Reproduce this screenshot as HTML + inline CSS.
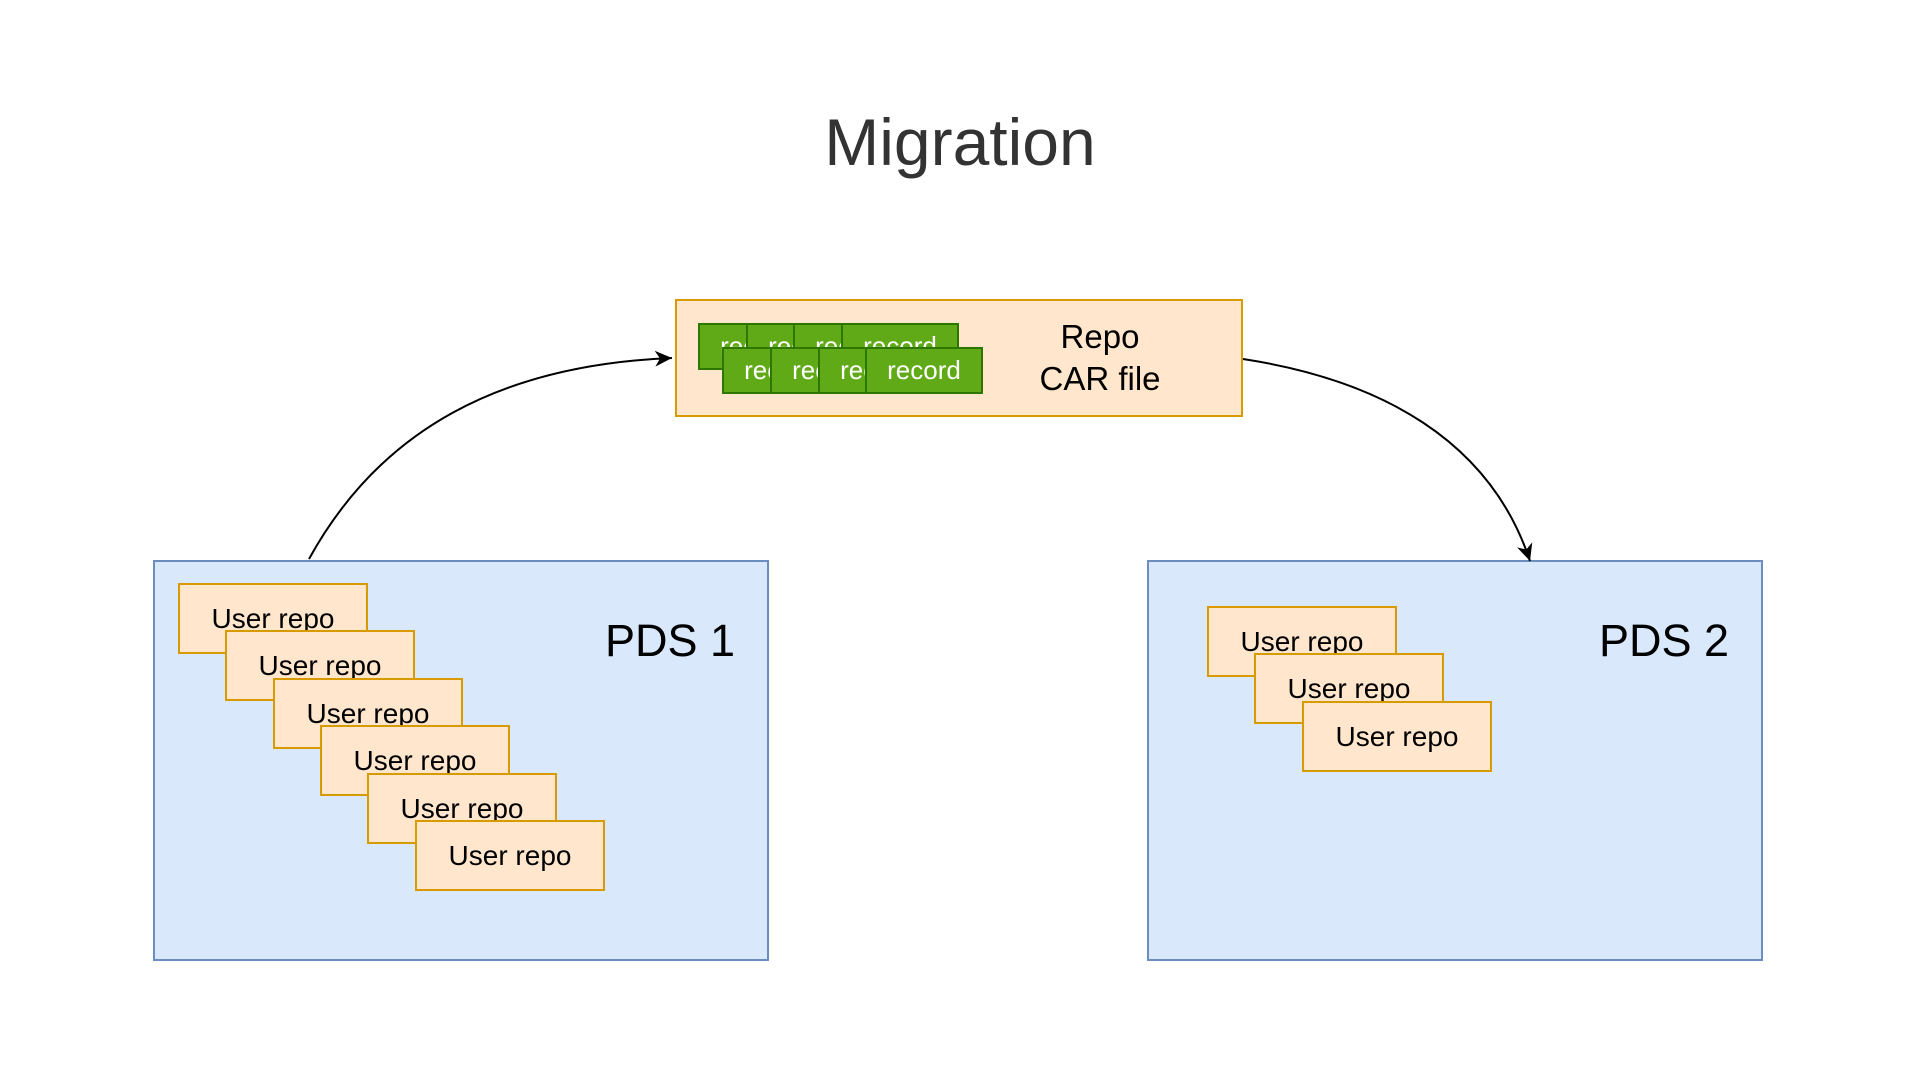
<!DOCTYPE html>
<html><head><meta charset="utf-8"><style>
body{margin:0;width:1920px;height:1080px;background:#fff;position:relative;overflow:hidden;font-family:"Liberation Sans",sans-serif}
.a{position:absolute;box-sizing:border-box}
.pds{background:#dae8fc;border:2px solid #6c8ebf}
.ur{background:#ffe6cc;border:2px solid #d79b00;width:190px;height:71px;display:flex;align-items:center;justify-content:center;font-size:28px;color:#000}
.g{background:#60a917;border:2px solid #2d7600;width:118px;height:47px;display:flex;align-items:center;justify-content:center;font-size:26px;color:#fff;white-space:nowrap}
.lbl{font-size:45px;color:#000}
</style></head><body>
<div class="a" style="left:0;width:1920px;top:104px;text-align:center;font-size:66px;color:#333">Migration</div>

<div class="a" style="left:675px;top:299px;width:568px;height:118px;background:#ffe6cc;border:2px solid #d79b00"></div>
<div class="a g" style="left:698px;top:323px">record</div>
<div class="a g" style="left:746px;top:323px">record</div>
<div class="a g" style="left:793px;top:323px">record</div>
<div class="a g" style="left:841px;top:323px">record</div>
<div class="a g" style="left:722px;top:347px">record</div>
<div class="a g" style="left:770px;top:347px">record</div>
<div class="a g" style="left:818px;top:347px">record</div>
<div class="a g" style="left:865px;top:347px">record</div>
<div class="a" style="left:1000px;top:316px;width:200px;text-align:center;font-size:33px;line-height:42px">Repo<br>CAR file</div>

<div class="a pds" style="left:153px;top:560px;width:616px;height:401px"></div>
<div class="a pds" style="left:1147px;top:560px;width:616px;height:401px"></div>
<div class="a lbl" style="left:605px;top:615px">PDS 1</div>
<div class="a lbl" style="left:1599px;top:615px">PDS 2</div>

<div class="a ur" style="left:178px;top:583px">User repo</div>
<div class="a ur" style="left:225px;top:630px">User repo</div>
<div class="a ur" style="left:273px;top:678px">User repo</div>
<div class="a ur" style="left:320px;top:725px">User repo</div>
<div class="a ur" style="left:367px;top:773px">User repo</div>
<div class="a ur" style="left:415px;top:820px">User repo</div>

<div class="a ur" style="left:1207px;top:606px">User repo</div>
<div class="a ur" style="left:1254px;top:653px">User repo</div>
<div class="a ur" style="left:1302px;top:701px">User repo</div>

<svg class="a" style="left:0;top:0" width="1920" height="1080">
<defs><marker id="m2" markerWidth="20" markerHeight="20" refX="17" refY="8" orient="auto" markerUnits="userSpaceOnUse"><path d="M0,0 L17,8 L0,16 L5,8z" fill="#000"/></marker></defs>
<path d="M309,559 C380,430 500,365 672,358" fill="none" stroke="#000" stroke-width="2" marker-end="url(#m2)"/>
<path d="M1243,359 C1380,380 1490,440 1530,561" fill="none" stroke="#000" stroke-width="2" marker-end="url(#m2)"/>
</svg>
</body></html>
